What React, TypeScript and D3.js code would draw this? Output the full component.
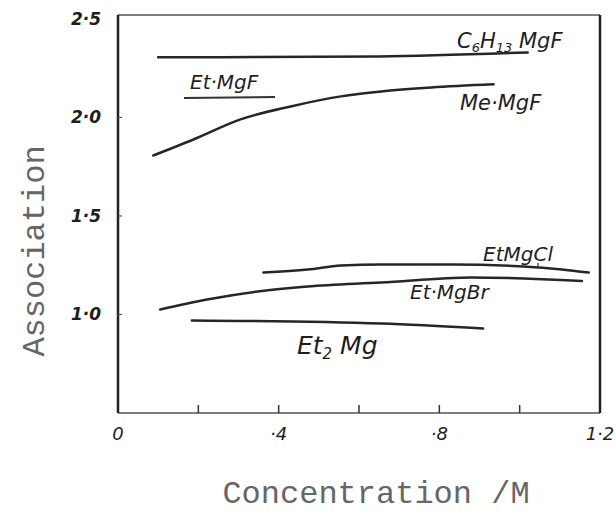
import React from "react";
import * as d3 from "d3";

// concentration (M) vs association
const hexylF = [[0.1, 2.305], [0.65, 2.31], [1.02, 2.33]];
const meMgF = [[0.088, 1.807], [0.188, 1.888], [0.305, 1.99], [0.43, 2.056], [0.555, 2.107], [0.655, 2.132], [0.78, 2.152], [0.935, 2.168]];
const etMgCl = [[0.362, 1.213], [0.472, 1.228], [0.555, 1.249], [0.655, 1.254], [0.83, 1.254], [1.047, 1.239], [1.172, 1.213]];
const etMgBr = [[0.105, 1.025], [0.222, 1.076], [0.348, 1.117], [0.472, 1.142], [0.655, 1.162], [0.88, 1.188], [1.155, 1.17]];
const et2Mg = [[0.184, 0.97], [0.655, 0.954], [0.909, 0.929]];

const xTicks = [0.2, 0.4, 0.6, 0.8, 1.0];
const xLabels = [[0, "0"], [0.4, "·4"], [0.8, "·8"], [1.2, "1·2"]];
const yTicks = [1.0, 1.5, 2.0];
const yLabels = [[2.5, "2·5"], [2.0, "2·0"], [1.5, "1·5"], [1.0, "1·0"]];

const W = 616;
const H = 516;

export default function App() {
  const x = d3.scaleLinear().domain([0, 1.2]).range([118, 600]);
  const y = d3.scaleLinear().domain([0.5, 2.52]).range([413, 15]);

  const line = d3
    .line<number[]>()
    .x((d) => x(d[0]))
    .y((d) => y(d[1]))
    .curve(d3.curveMonotoneX);

  const series = [hexylF, meMgF, etMgCl, etMgBr, et2Mg];
  const hand = { fontFamily: "DejaVu Sans", fontStyle: "italic", fill: "#1e1e1e" } as const;
  const typed = { fontFamily: "Liberation Mono, monospace", fill: "#666", fontSize: 32 } as const;

  return (
    <svg width={W} height={H} style={{ position: "absolute", left: 0, top: 0, background: "#fff" }}>
      {/* frame */}
      <line x1={x(0)} x2={x(1.2)} y1={y(2.52)} y2={y(2.52)} stroke="#555" strokeWidth={1.5} />
      <line x1={x(0)} x2={x(1.2)} y1={y(0.5)} y2={y(0.5)} stroke="#555" strokeWidth={1.5} />
      <line x1={x(0)} x2={x(0)} y1={y(2.52)} y2={y(0.5)} stroke="#222" strokeWidth={2.5} />
      <line x1={x(1.2)} x2={x(1.2)} y1={y(2.52)} y2={y(0.5)} stroke="#222" strokeWidth={2.5} />

      {xTicks.map((t) => (
        <line key={t} x1={x(t)} x2={x(t)} y1={y(0.5)} y2={y(0.5) - 8} stroke="#333" strokeWidth={1.5} />
      ))}
      {yTicks.map((t) => (
        <line key={t} x1={x(0)} x2={x(0) + 4} y1={y(t)} y2={y(t)} stroke="#555" strokeWidth={1.2} />
      ))}

      {xLabels.map(([v, s]) => (
        <text key={s as string} x={x(v as number)} y={440} textAnchor="middle" fontSize={18} {...hand}>
          {s}
        </text>
      ))}
      {yLabels.map(([v, s]) => (
        <text key={s as string} x={101} y={y(v as number) + 6} textAnchor="end" fontSize={17} fontWeight="bold" {...hand}>
          {s}
        </text>
      ))}

      {series.map((d, i) => (
        <path key={i} d={line(d) || ""} fill="none" stroke="#262626" strokeWidth={2.5} strokeLinecap="round" />
      ))}

      {/* curve labels */}
      <text x={457} y={48} fontSize={21} {...hand}>
        C<tspan fontSize={13} dy={4}>6</tspan>
        <tspan dy={-4}>H</tspan>
        <tspan fontSize={13} dy={4}>13</tspan>
        <tspan dy={-4}> MgF</tspan>
      </text>
      <text x={190} y={89} fontSize={20} {...hand}>Et·MgF</text>
      <line x1={184} x2={275} y1={98} y2={97} stroke="#333" strokeWidth={2} />
      <text x={460} y={110} fontSize={21} {...hand}>Me·MgF</text>
      <text x={483} y={261} fontSize={20} {...hand}>EtMgCl</text>
      <line x1={538} x2={538} y1={263} y2={268} stroke="#333" strokeWidth={1.2} />
      <text x={410} y={299} fontSize={20} {...hand}>Et·MgBr</text>
      <text x={297} y={354} fontSize={25} {...hand}>
        Et<tspan fontSize={15} dy={5}>2</tspan>
        <tspan dy={-5}> Mg</tspan>
      </text>

      {/* axis titles */}
      <text x={376} y={503} textAnchor="middle" {...typed}>Concentration /M</text>
      <text transform="translate(44,251) rotate(-90)" textAnchor="middle" {...typed}>Association</text>
    </svg>
  );
}
